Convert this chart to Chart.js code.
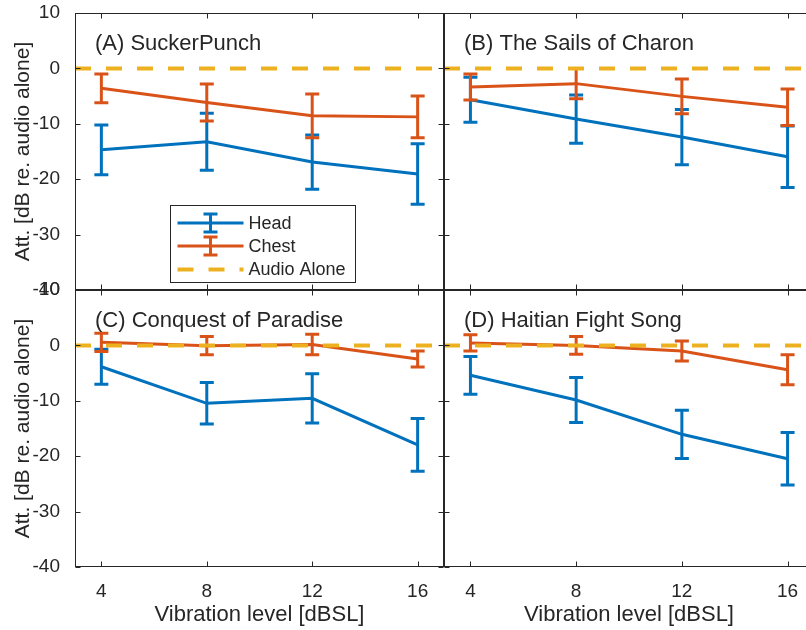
<!DOCTYPE html>
<html>
<head>
<meta charset="utf-8">
<script src="https://cdn.jsdelivr.net/npm/chart.js@4.4.1/dist/chart.umd.min.js"></script>
<style>
html, body { margin: 0; padding: 0; background: #fff; overflow: hidden; width: 806px; height: 630px; }
canvas { position: absolute; }
</style>
</head>
<body>
<canvas id="cA" width="450" height="305" style="left:0;top:0"></canvas>
<canvas id="cB" width="380" height="305" style="left:434px;top:0"></canvas>
<canvas id="cC" width="450" height="350" style="left:0;top:280px"></canvas>
<canvas id="cD" width="380" height="350" style="left:434px;top:280px"></canvas>
<script>
// x positions (vibration level, dBSL) and axis ticks
const vibrationLevels = [4, 8, 12, 16];
const xTicks = [4, 8, 12, 16];
const yTicks = [10, 0, -10, -20, -30, -40];
const audioAlone = 0;

// (A) SuckerPunch
const headA = [-14.7, -13.25, -16.9, -19.05];
const headAErr = [4.5, 5.15, 4.9, 5.45];
const chestA = [-3.6, -6.15, -8.55, -8.75];
const chestAErr = [2.6, 3.35, 3.95, 3.75];

// (B) The Sails of Charon
const headB = [-5.65, -9.15, -12.4, -15.95];
const headBErr = [4.05, 4.35, 5.0, 5.55];
const chestB = [-3.35, -2.75, -5.05, -7.0];
const chestBErr = [2.35, 2.75, 3.15, 3.3];

// (C) Conquest of Paradise
const headC = [-3.85, -10.45, -9.55, -17.95];
const headCErr = [3.15, 3.75, 4.45, 4.75];
const chestC = [0.55, -0.05, 0.15, -2.45];
const chestCErr = [1.65, 1.65, 1.85, 1.45];

// (D) Haitian Fight Song
const headD = [-5.4, -9.85, -16.05, -20.45];
const headDErr = [3.4, 4.05, 4.35, 4.75];
const chestD = [0.45, 0.0, -1.0, -4.4];
const chestDErr = [1.45, 1.6, 1.8, 2.7];

const BLUE = '#0072BD', ORANGE = '#D95319', YELLOW = '#EDB120', INK = '#262626';
const FONT = "'Liberation Sans', Arial, Helvetica, sans-serif";
const X_MIN = 3, X_MAX = 17;

Chart.defaults.font.family = FONT;
Chart.defaults.color = INK;
Chart.defaults.animation = false;

const pts = (ys) => vibrationLevels.map((x, i) => ({x: x, y: ys[i]}));

// matlab-ish box, inward ticks, error bars, panel label and legend
const matlabAxes = {
  id: 'matlabAxes',
  afterDatasetDraw(chart, args) {
    const ds = chart.data.datasets[args.index];
    if (!ds.errors) return;
    const {ctx} = chart;
    const ys = chart.scales.y;
    ctx.save();
    ctx.strokeStyle = ds.borderColor;
    ctx.lineWidth = 3;
    args.meta.data.forEach((pt, i) => {
      const v = ds.data[i].y, e = ds.errors[i];
      const y1 = ys.getPixelForValue(v + e), y2 = ys.getPixelForValue(v - e);
      ctx.beginPath();
      ctx.moveTo(pt.x, y1); ctx.lineTo(pt.x, y2);
      ctx.moveTo(pt.x - 7, y1); ctx.lineTo(pt.x + 7, y1);
      ctx.moveTo(pt.x - 7, y2); ctx.lineTo(pt.x + 7, y2);
      ctx.stroke();
    });
    ctx.restore();
  },
  afterDraw(chart, args, opts) {
    const {ctx, chartArea: ca} = chart;
    const xs = chart.scales.x, ys = chart.scales.y;
    const L = Math.round(ca.left) + 0.5, R = Math.round(ca.right) - 0.5;
    const T = Math.round(ca.top) + 0.5, B = Math.round(ca.bottom) - 0.5;
    ctx.save();
    ctx.strokeStyle = INK;
    ctx.lineWidth = 1;
    ctx.strokeRect(L, T, R - L, B - T);
    ctx.beginPath();
    xTicks.forEach(v => {
      const x = Math.round(xs.getPixelForValue(v)) + 0.5;
      ctx.moveTo(x, T); ctx.lineTo(x, T + 5);
      ctx.moveTo(x, B); ctx.lineTo(x, B - 5);
    });
    yTicks.forEach(v => {
      const y = Math.round(ys.getPixelForValue(v)) + 0.5;
      ctx.moveTo(L, y); ctx.lineTo(L + 5, y);
      ctx.moveTo(R, y); ctx.lineTo(R - 5, y);
    });
    ctx.stroke();

    ctx.fillStyle = INK;
    ctx.font = '22px ' + FONT;
    ctx.textBaseline = 'alphabetic';
    ctx.textAlign = 'left';
    ctx.fillText(opts.label, ca.left + 20, ca.top + 37);

    if (opts.legend) {
      const bx = Math.round(ca.left + 95) + 0.5, by = Math.round(ca.top + 192) + 0.5;
      const bw = 185, bh = 77;
      ctx.fillStyle = '#fff';
      ctx.fillRect(bx, by, bw, bh);
      ctx.strokeStyle = INK;
      ctx.lineWidth = 1;
      ctx.strokeRect(bx, by, bw, bh);
      const rows = [17.5, 40.5, 64];
      chart.data.datasets.forEach((ds, i) => {
        const y = by + rows[i];
        ctx.strokeStyle = ds.borderColor;
        ctx.lineWidth = ds.borderWidth;
        ctx.setLineDash(ds.borderDash || []);
        ctx.beginPath();
        ctx.moveTo(bx + 7, y); ctx.lineTo(bx + 73, y);
        ctx.stroke();
        ctx.setLineDash([]);
        if (ds.errors) {
          const cx = bx + 40;
          ctx.lineWidth = 3;
          ctx.beginPath();
          ctx.moveTo(cx, y - 9); ctx.lineTo(cx, y + 9);
          ctx.moveTo(cx - 7, y - 9); ctx.lineTo(cx + 7, y - 9);
          ctx.moveTo(cx - 7, y + 9); ctx.lineTo(cx + 7, y + 9);
          ctx.stroke();
        }
        ctx.fillStyle = INK;
        ctx.font = '18px ' + FONT;
        ctx.textBaseline = 'middle';
        ctx.fillText(ds.label, bx + 78, y + 1);
      });
    }
    ctx.restore();
  }
};

function makePanel(id, cfg) {
  const datasets = [
    {label: 'Head', data: pts(cfg.head), errors: cfg.headErr, borderColor: BLUE, borderWidth: 3, pointRadius: 0, order: 3},
    {label: 'Chest', data: pts(cfg.chest), errors: cfg.chestErr, borderColor: ORANGE, borderWidth: 3, pointRadius: 0, order: 2},
    {label: 'Audio Alone', data: [{x: X_MIN, y: audioAlone}, {x: X_MAX, y: audioAlone}], borderColor: YELLOW, borderWidth: 4, borderDash: [16, 15], pointRadius: 0, order: 1}
  ];
  const xScale = {
    type: 'linear', min: X_MIN, max: X_MAX, display: cfg.bottom,
    afterBuildTicks: s => { s.ticks = xTicks.map(v => ({value: v})); },
    afterFit: s => { s.height = cfg.bottom ? 63 : 0; s.paddingLeft = 0; s.paddingRight = 0; },
    grid: {display: false}, border: {display: false},
    ticks: {padding: 5, maxRotation: 0, font: {size: 19}, color: INK},
    title: {display: true, text: 'Vibration level [dBSL]', font: {size: 22}, color: INK, padding: {top: 0, bottom: 2}}
  };
  const yScale = {
    type: 'linear', min: -40, max: 10, display: cfg.left,
    afterBuildTicks: s => { s.ticks = yTicks.map(v => ({value: v})); },
    afterFit: s => { s.width = cfg.left ? 75 : 0; s.paddingTop = 0; s.paddingBottom = 0; },
    grid: {display: false}, border: {display: false},
    ticks: {padding: 7, font: {size: 19}, color: INK},
    title: {display: true, text: 'Att. [dB re. audio alone]', font: {size: 21}, color: INK, padding: {top: 11, bottom: 0}}
  };
  return new Chart(document.getElementById(id), {
    type: 'line',
    data: {datasets: datasets},
    options: {
      responsive: false,
      layout: {padding: cfg.padding},
      scales: {x: xScale, y: yScale},
      plugins: {
        legend: {display: false},
        tooltip: {enabled: false},
        matlabAxes: {label: cfg.label, legend: !!cfg.legend}
      }
    },
    plugins: [matlabAxes]
  });
}

makePanel('cA', {label: '(A) SuckerPunch', head: headA, headErr: headAErr, chest: chestA, chestErr: chestAErr,
  left: true, bottom: false, legend: true, padding: {top: 13, right: 6, bottom: 15, left: 0}});
makePanel('cB', {label: '(B) The Sails of Charon', head: headB, headErr: headBErr, chest: chestB, chestErr: chestBErr,
  left: false, bottom: false, padding: {top: 13, right: 0, bottom: 15, left: 10}});
makePanel('cC', {label: '(C) Conquest of Paradise', head: headC, headErr: headCErr, chest: chestC, chestErr: chestCErr,
  left: true, bottom: true, padding: {top: 10, right: 6, bottom: 0, left: 0}});
makePanel('cD', {label: '(D) Haitian Fight Song', head: headD, headErr: headDErr, chest: chestD, chestErr: chestDErr,
  left: false, bottom: true, padding: {top: 10, right: 0, bottom: 0, left: 10}});
</script>
</body>
</html>
